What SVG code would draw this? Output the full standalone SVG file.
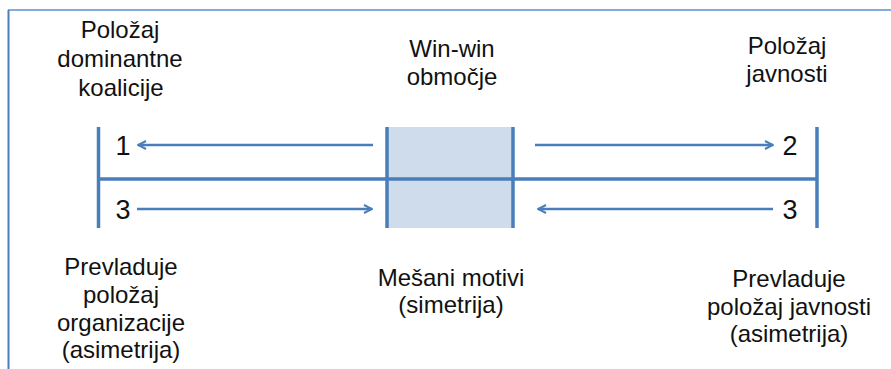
<svg xmlns="http://www.w3.org/2000/svg" width="891" height="369" viewBox="0 0 891 369">
<defs>
<style>
.t{font-family:"Liberation Sans",Arial,sans-serif;font-size:24px;fill:#111;text-anchor:middle}
.n{font-family:"Liberation Sans",Arial,sans-serif;font-size:27px;fill:#111;text-anchor:middle}
.ax{stroke:#4A7EBB;stroke-width:3.5;fill:none}
.ar{stroke:#4A7EBB;stroke-width:2.5;fill:none;marker-end:url(#ah)}
</style>
<marker id="ah" viewBox="0 0 10 10" refX="9" refY="5" markerWidth="4" markerHeight="4" orient="auto" markerUnits="strokeWidth">
<path d="M1,1 L9,5 L1,9" fill="none" stroke="#4A7EBB" stroke-width="2"/>
</marker>
</defs>
<rect width="891" height="369" fill="#fff"/>
<g id="frame">
<line x1="8" y1="10" x2="891" y2="10" stroke="#5B8FD0" stroke-width="1.5"/>
<line x1="8.5" y1="10" x2="8.5" y2="369" stroke="#4A7EBB" stroke-width="2"/>
</g>
<g id="winwin-zone">
<rect x="387" y="127" width="126" height="101" fill="#CFDCEC"/>
</g>
<g id="connectors">
<line class="ax" x1="98.5" y1="127" x2="98.5" y2="228"/>
<line class="ax" x1="817" y1="127" x2="817" y2="228"/>
<line class="ax" x1="387" y1="127" x2="387" y2="228"/>
<line class="ax" x1="513" y1="127" x2="513" y2="228"/>
<line class="ax" x1="98.5" y1="179" x2="817" y2="179"/>
<line class="ar" x1="373" y1="145" x2="138" y2="145"/>
<line class="ar" x1="535" y1="145" x2="773" y2="145"/>
<line class="ar" x1="137" y1="209" x2="372" y2="209"/>
<line class="ar" x1="773" y1="209" x2="538" y2="209"/>
</g>
<g id="n1"><text class="n" x="123" y="155">1</text></g>
<g id="n2"><text class="n" x="790" y="155">2</text></g>
<g id="n3-left"><text class="n" x="123" y="219">3</text></g>
<g id="n3-right"><text class="n" x="790" y="219">3</text></g>
<g id="label-coalition">
<text class="t" x="120" y="38">Položaj</text>
<text class="t" x="120" y="67">dominantne</text>
<text class="t" x="121" y="96">koalicije</text>
</g>
<g id="label-winwin">
<text class="t" x="452" y="57">Win-win</text>
<text class="t" x="452" y="85">območje</text>
</g>
<g id="label-public">
<text class="t" x="787" y="54">Položaj</text>
<text class="t" x="787" y="82">javnosti</text>
</g>
<g id="label-org">
<text class="t" x="121" y="275">Prevladuje</text>
<text class="t" x="121" y="303">položaj</text>
<text class="t" x="121" y="331">organizacije</text>
<text class="t" x="121" y="358">(asimetrija)</text>
</g>
<g id="label-mixed">
<text class="t" x="451" y="286">Mešani motivi</text>
<text class="t" x="451" y="313">(simetrija)</text>
</g>
<g id="label-public-dom">
<text class="t" x="789" y="287">Prevladuje</text>
<text class="t" x="789" y="315">položaj javnosti</text>
<text class="t" x="789" y="342">(asimetrija)</text>
</g>
</svg>
